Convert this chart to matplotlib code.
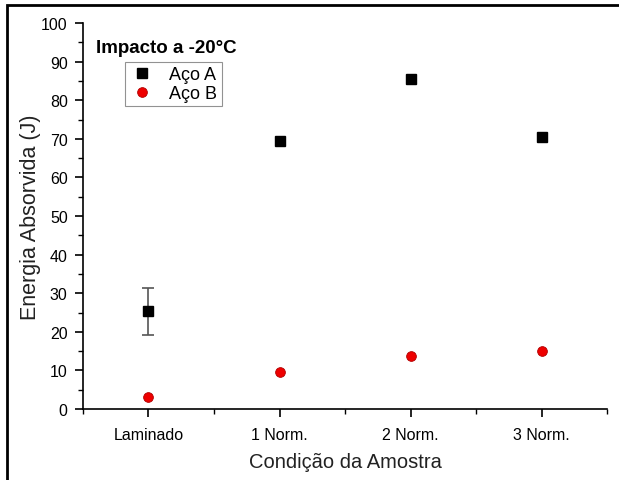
import matplotlib.pyplot as plt
from matplotlib.patches import Rectangle
from matplotlib.ticker import MultipleLocator

# --- Data ---
categories = ['Laminado', '1 Norm.', '2 Norm.', '3 Norm.']
aco_a = [25.3, 69.4, 85.6, 70.6]
aco_a_err = [6.1, 0, 0, 0]
aco_b = [3.1, 9.7, 13.7, 15.0]

plt.rcParams['font.family'] = ['Liberation Sans', 'DejaVu Sans']

fig = plt.figure(figsize=(6.19, 4.81), dpi=100)
ax = fig.add_axes([0.134, 0.1476, 0.847, 0.8024])

x = list(range(len(categories)))

# Aço A with error bar on the first point
ax.errorbar(x[:1], aco_a[:1], yerr=aco_a_err[:1], fmt='none', ecolor='#555555',
            elinewidth=1.2, capsize=4, capthick=1.2, zorder=2)
ax.plot(x, aco_a, linestyle='none', marker='s', markersize=6.5,
        color='black', label='Aço A', zorder=3)
ax.plot(x, aco_b, linestyle='none', marker='o', markersize=7,
        markerfacecolor='#ee0000', markeredgecolor='#b00000', markeredgewidth=0.6,
        label='Aço B', zorder=3)

ax.set_xlim(-0.5, 3.5)
ax.set_ylim(0, 100)
ax.set_xticks(x)
ax.set_xticklabels(categories)
ax.xaxis.set_minor_locator(MultipleLocator(0.5))
ax.yaxis.set_major_locator(MultipleLocator(10))
ax.yaxis.set_minor_locator(MultipleLocator(5))

for side in ['top', 'right']:
    ax.spines[side].set_visible(False)
for side in ['left', 'bottom']:
    ax.spines[side].set_linewidth(1.2)

ax.tick_params(which='major', direction='out', length=6, width=1.2,
               labelsize=11.5, colors='black', pad=5)
ax.tick_params(which='minor', direction='out', length=3.5, width=1.0)
ax.tick_params(axis='x', which='major', pad=7)

ax.set_xlabel('Condição da Amostra', fontsize=14.5, color='#222222', labelpad=7)
ax.set_ylabel('Energia Absorvida (J)', fontsize=15.5, color='#222222')
ax.yaxis.set_label_coords(-0.08, 0.5)

# title inside the plot area
ax.text(0.025, 0.958, 'Impacto a -20°C', transform=ax.transAxes,
        fontsize=13.5, fontweight='bold', va='top', ha='left')

leg = ax.legend(loc='upper left', bbox_to_anchor=(0.08, 0.9), fontsize=13,
                frameon=True, fancybox=False, edgecolor='#777777',
                handlelength=1.4, handletextpad=0.8, borderpad=0.25,
                labelspacing=0.1, borderaxespad=0)
leg.get_frame().set_linewidth(0.8)

# outer frame around the picture
fig.patches.append(Rectangle((7 / 619, -0.1), 1.1, 1 - 6 / 481 + 0.1,
                             transform=fig.transFigure, fill=False,
                             edgecolor='black', linewidth=2))

fig.savefig('out.png', dpi=100)
